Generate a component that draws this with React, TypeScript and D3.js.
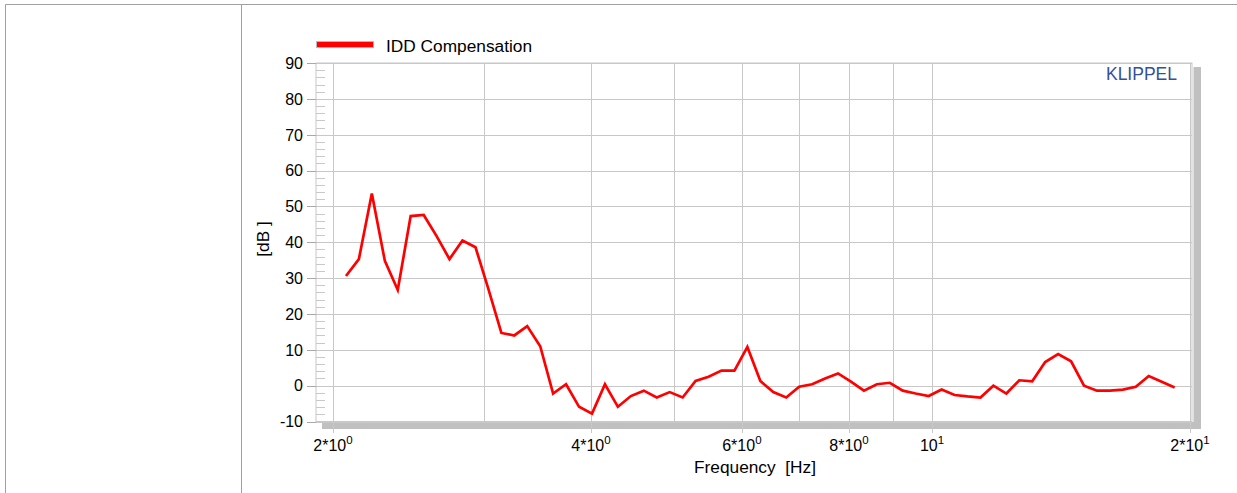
import React from "react";
import * as d3 from "d3";

const freqs = [
  2.071, 2.144, 2.22, 2.299, 2.38, 2.464, 2.552, 2.642, 2.735, 2.832,
  2.933, 3.036, 3.144, 3.255, 3.37, 3.49, 3.613, 3.741, 3.874, 4.011,
  4.153, 4.3, 4.452, 4.61, 4.773, 4.942, 5.117, 5.298, 5.486, 5.68,
  5.881, 6.089, 6.305, 6.528, 6.759, 6.998, 7.246, 7.503, 7.768, 8.043,
  8.328, 8.623, 8.928, 9.244, 9.571, 9.91, 10.261, 10.624, 11.0, 11.39,
  11.793, 12.21, 12.642, 13.09, 13.553, 14.033, 14.53, 15.044, 15.577, 16.128,
  16.699, 17.29, 17.902, 18.536, 19.192,
];

const iddCompensation = [
  30.6, 35.3, 53.6, 34.8, 26.7, 47.3, 47.6, 41.7, 35.3, 40.5,
  38.6, 27.0, 14.7, 14.0, 16.6, 11.0, -2.2, 0.4, -5.9, -7.8,
  0.4, -5.9, -2.9, -1.4, -3.3, -1.8, -3.3, 1.3, 2.5, 4.2,
  4.2, 10.8, 1.3, -1.8, -3.3, -0.3, 0.4, 2.0, 3.4, 1.1,
  -1.4, 0.4, 0.8, -1.4, -2.2, -2.9, -1.1, -2.6, -3.0, -3.3,
  0.0, -2.2, 1.5, 1.2, 6.6, 8.8, 6.8, 0.0, -1.4, -1.4,
  -1.1, -0.3, 2.7, 1.1, -0.5,
];

const yTicks = [90, 80, 70, 60, 50, 40, 30, 20, 10, 0, -10];
const yMinorTicks = d3.range(-10, 90, 2).filter((v) => v % 10 !== 0);
const xGridFreqs = [2, 3, 4, 5, 6, 7, 8, 9, 10, 20];
const xTickLabels: { f: number; base: string; exp: string }[] = [
  { f: 2, base: "2*10", exp: "0" },
  { f: 4, base: "4*10", exp: "0" },
  { f: 6, base: "6*10", exp: "0" },
  { f: 8, base: "8*10", exp: "0" },
  { f: 10, base: "10", exp: "1" },
  { f: 20, base: "2*10", exp: "1" },
];

const W = 1237;
const H = 493;
const left = 316;
const right = 1192;
const top = 63;
const bottom = 421.5;

export default function App() {
  const x = d3.scaleLog().domain([2, 20]).range([333, 1190]);
  const y = d3.scaleLinear().domain([-10, 90]).range([bottom, top]);
  const line = d3
    .line<number>()
    .x((_, i) => x(freqs[i]))
    .y((d) => y(d));
  const grid = "#c8c8c8";
  const font = "Liberation Sans, Arial, sans-serif";

  return (
    <svg
      width={W}
      height={H}
      style={{ position: "absolute", left: 0, top: 0, background: "#fff" }}
      fontFamily={font}
    >
      {/* outer frame lines */}
      <line x1={5.5} x2={W} y1={4.5} y2={4.5} stroke="#a0a0a0" />
      <line x1={5.5} x2={5.5} y1={4.5} y2={H} stroke="#a0a0a0" />
      <line x1={241.5} x2={241.5} y1={4.5} y2={H} stroke="#a0a0a0" />

      {/* shadow */}
      <rect x={right + 1.5} y={top + 4} width={7.5} height={bottom - top + 3} fill="#c0c0c0" />
      <rect x={left + 6} y={bottom + 0.5} width={right - left + 3} height={7} fill="#c0c0c0" />

      {/* plot background */}
      <rect x={left} y={top} width={right - left} height={bottom - top} fill="#fff" stroke={grid} />

      {/* horizontal grid */}
      {yTicks.map((v) => (
        <g key={"h" + v}>
          <line x1={left} x2={right} y1={Math.round(y(v)) + 0.5} y2={Math.round(y(v)) + 0.5} stroke={grid} />
          <line x1={307} x2={left} y1={Math.round(y(v)) + 0.5} y2={Math.round(y(v)) + 0.5} stroke="#a8a8a8" />
          <text x={303} y={y(v) + 5.8} fontSize={16} textAnchor="end" fill="#000">
            {v}
          </text>
        </g>
      ))}
      {yMinorTicks.map((v) => (
        <line
          key={"m" + v}
          x1={left}
          x2={325}
          y1={Math.round(y(v)) + 0.5}
          y2={Math.round(y(v)) + 0.5}
          stroke={grid}
        />
      ))}

      {/* vertical grid */}
      {xGridFreqs.map((f) => (
        <line
          key={"v" + f}
          x1={Math.round(x(f)) + 0.5}
          x2={Math.round(x(f)) + 0.5}
          y1={top}
          y2={bottom}
          stroke={grid}
        />
      ))}
      {xTickLabels.map((t) => (
        <g key={"t" + t.f}>
          <line
            x1={Math.round(x(t.f)) + 0.5}
            x2={Math.round(x(t.f)) + 0.5}
            y1={bottom}
            y2={433}
            stroke={grid}
          />
          <text x={x(t.f)} y={450.5} fontSize={16} textAnchor="middle" fill="#000">
            {t.base}
            <tspan fontSize={11.5} dy={-6.5}>
              {t.exp}
            </tspan>
          </text>
        </g>
      ))}

      {/* data line */}
      <path
        d={line(iddCompensation) || ""}
        fill="none"
        stroke="#ff0000"
        strokeWidth={2.7}
        strokeLinejoin="miter"
      />

      {/* KLIPPEL */}
      <text x={1177} y={80} fontSize={17.5} textAnchor="end" fill="#34509a">
        KLIPPEL
      </text>

      {/* legend */}
      <rect x={316.5} y={41.5} width={57} height={6} fill="#ff0000" stroke="#b8b8b8" />
      <text x={386} y={52} fontSize={17.3} fill="#000">
        IDD Compensation
      </text>

      {/* axis titles */}
      <text x={755} y={472.5} fontSize={17.3} textAnchor="middle" fill="#000">
        {"Frequency\u00a0\u00a0[Hz]"}
      </text>
      <text
        transform={`translate(269,239) rotate(-90)`}
        fontSize={17.3}
        textAnchor="middle"
        fill="#000"
      >
        {"[dB\u00a0]"}
      </text>
    </svg>
  );
}
